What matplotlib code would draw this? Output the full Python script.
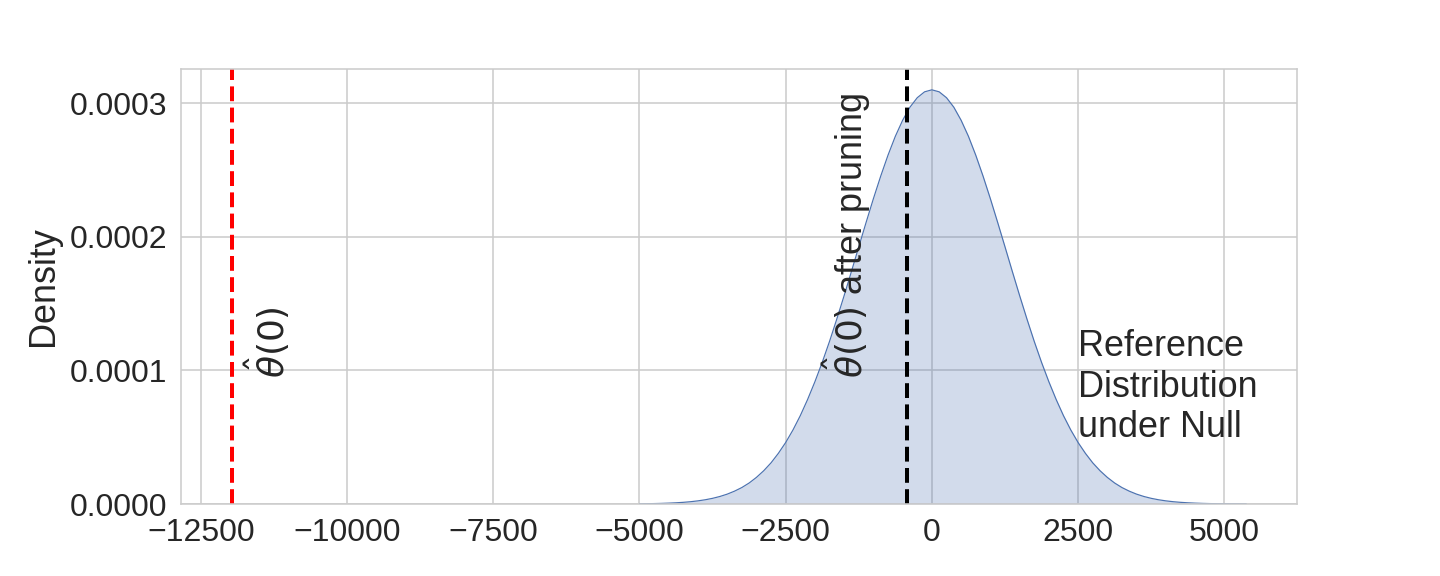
import matplotlib
matplotlib.use("Agg")
import matplotlib.pyplot as plt
import seaborn as sns

# 参照分布 (帰無仮説下) の密度 [x1e-4], 125 刻みで目視読み取り
null_x = list(range(-5000, 5376, 125))
null_density = [
    0.0015, 0.0022, 0.0032, 0.0045, 0.0064, 0.0090, 0.0125, 0.0172, 0.0235, 0.0317,
    0.0424, 0.0562, 0.0737, 0.096, 0.123, 0.157, 0.199, 0.249, 0.308, 0.379,
    0.460, 0.554, 0.661, 0.782, 0.915, 1.060, 1.217, 1.385, 1.560, 1.741,
    1.925, 2.107, 2.285, 2.454, 2.611, 2.752, 2.872, 2.970, 3.041, 3.085,
    3.100,
    3.085, 3.041, 2.970, 2.872, 2.752, 2.611, 2.454, 2.285, 2.107, 1.925,
    1.741, 1.560, 1.385, 1.217, 1.060, 0.915, 0.782, 0.661, 0.554, 0.460,
    0.379, 0.308, 0.249, 0.199, 0.157, 0.123, 0.096, 0.0737, 0.0562, 0.0424,
    0.0317, 0.0235, 0.0172, 0.0125, 0.0090, 0.0064, 0.0045, 0.0032, 0.0022, 0.0015,
    0.0010, 0.0007, 0.0005,
]
null_density = [d * 1e-4 for d in null_density]

theta_hat = -11970
theta_hat_pruned = -420

sns.set_style("whitegrid")
plt.rcParams["font.family"] = ["Liberation Sans", "DejaVu Sans"]

fig = plt.figure(figsize=(10, 4), dpi=144)
ax = fig.add_axes([0.1257, 0.125, 0.775, 0.755])

color = "#4c72b0"
coll = ax.fill_between(null_x, null_density, color=color, alpha=0.25, linewidth=0)
coll.sticky_edges.y.append(0)
ax.plot(null_x, null_density, color=color, linewidth=0.6)

ax.axvline(theta_hat, color="red", linestyle="--", linewidth=2)
ax.axvline(theta_hat_pruned, color="black", linestyle="--", linewidth=2)

ax.text(-11770, 0.0000945, r"$\hat{\theta}(0)$", rotation=90, fontsize=18,
        ha="left", va="bottom")
ax.text(-1910, 0.0000945, r"$\hat{\theta}(0)$ after pruning", rotation=90, fontsize=18,
        ha="left", va="bottom")
ax.text(2500, 0.00005, "Reference\nDistribution\nunder Null", fontsize=18)

ax.set_ylabel("Density", fontsize=18)
ax.tick_params(labelsize=16)

fig.savefig("out.png", dpi=144)
